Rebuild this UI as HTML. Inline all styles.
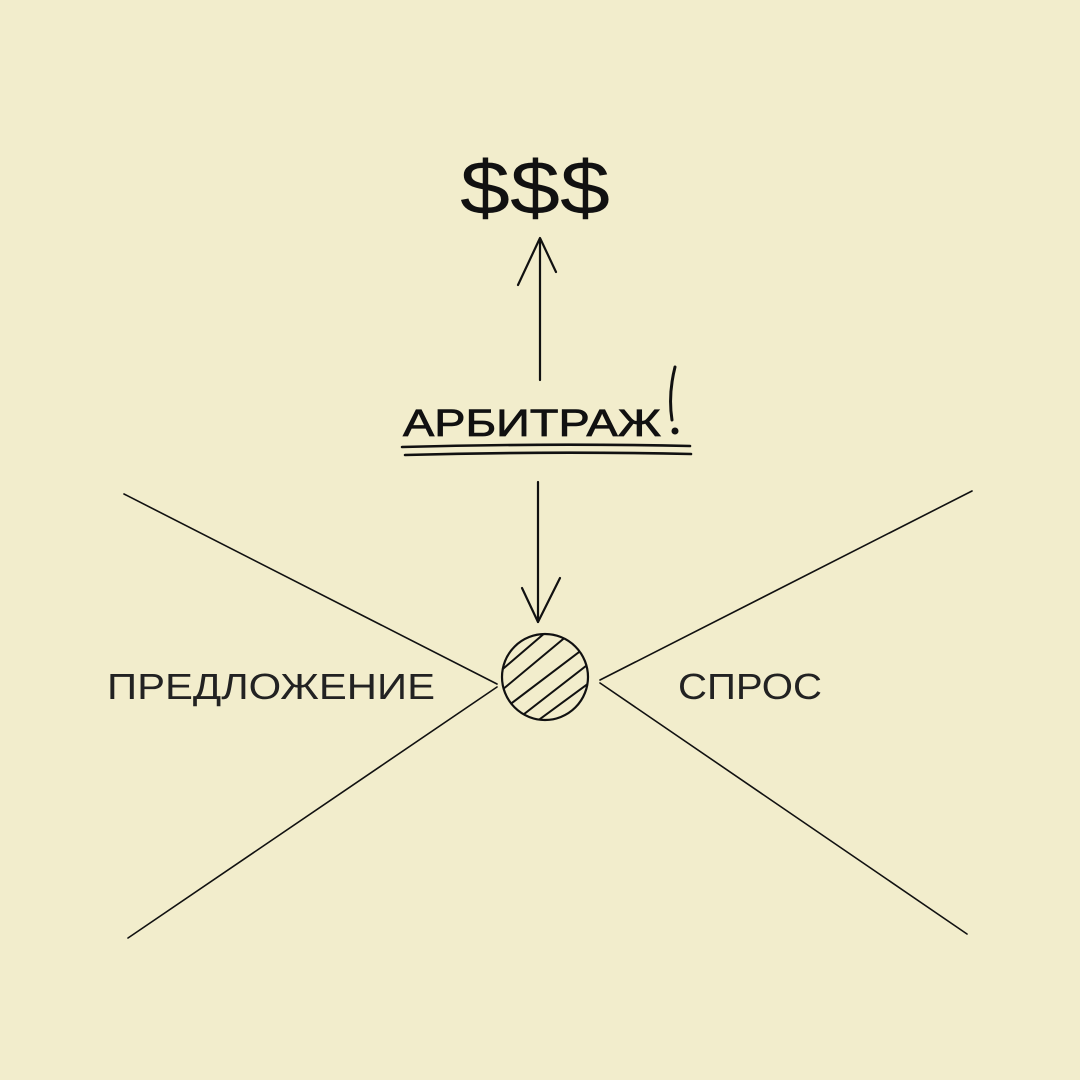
<!DOCTYPE html>
<html><head><meta charset="utf-8"><style>
html,body{margin:0;padding:0;background:#f2edcc;}
svg{display:block}
text{font-family:"Liberation Sans","DejaVu Sans",sans-serif;fill:#111}
</style></head><body>
<svg width="1080" height="1080" viewBox="0 0 1080 1080" xmlns="http://www.w3.org/2000/svg">
<rect width="1080" height="1080" fill="#f2edcc"/>
<g stroke="#111" fill="none" stroke-linecap="round" stroke-linejoin="round">
<line x1="124" y1="494" x2="497" y2="684" stroke-width="1.6"/>
<line x1="128" y1="938" x2="497" y2="687" stroke-width="1.6"/>
<line x1="972" y1="491" x2="600" y2="680" stroke-width="1.6"/>
<line x1="967" y1="934" x2="600" y2="683" stroke-width="1.6"/>
<line x1="540" y1="380" x2="540" y2="240" stroke-width="2.2"/>
<polyline points="518,285 540,238 556,272" stroke-width="2.2"/>
<line x1="538" y1="482" x2="538" y2="622" stroke-width="2.2"/>
<polyline points="522,588 538,622 560,578" stroke-width="2.2"/>
<circle cx="545" cy="677" r="43" stroke-width="2.2"/>
<clipPath id="c"><circle cx="545" cy="677" r="43"/></clipPath>
<g clip-path="url(#c)" stroke-width="2">
<line x1="490" y1="680" x2="560" y2="620"/>
<line x1="490" y1="700" x2="580" y2="625"/>
<line x1="500" y1="712" x2="595" y2="640"/>
<line x1="510" y1="725" x2="600" y2="655"/>
<line x1="525" y1="730" x2="600" y2="675"/>
<line x1="545" y1="735" x2="600" y2="695"/>
<line x1="490" y1="660" x2="540" y2="625"/>
</g>
<path d="M402 447 Q550 443 690 446" stroke-width="2.6"/>
<path d="M405 455 Q550 451 691 454" stroke-width="2.6"/>
<path d="M675 367 Q668 395 672 420" stroke-width="3"/>
</g>
<circle cx="675" cy="431" r="3.5" fill="#111"/>
<text x="535" y="214" font-size="76" text-anchor="middle" textLength="150" lengthAdjust="spacingAndGlyphs">$$$</text>
<text x="403" y="436" font-size="38" textLength="258" lengthAdjust="spacingAndGlyphs" style="stroke:#111;stroke-width:0.8">АРБИТРАЖ</text>
<text x="107" y="699" font-size="36" textLength="328" lengthAdjust="spacingAndGlyphs" style="fill:#222">ПРЕДЛОЖЕНИЕ</text>
<text x="678" y="699" font-size="36" textLength="144" lengthAdjust="spacingAndGlyphs" style="fill:#222">СПРОС</text>
</svg>
</body></html>
